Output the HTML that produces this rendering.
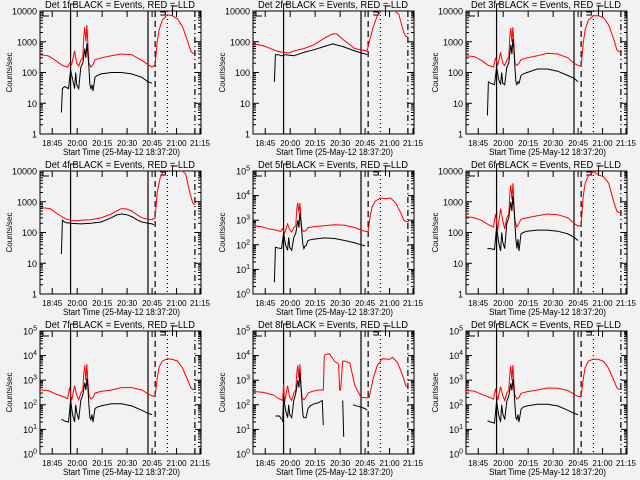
<!DOCTYPE html>
<html><head><meta charset="utf-8"><style>
body{margin:0;background:#f2f2f2}
svg{display:block}
text{font-family:"Liberation Sans",sans-serif;fill:#000}
</style></head><body>
<svg id="c" width="640" height="480" viewBox="0 0 640 480">
<rect width="640" height="480" fill="#f2f2f2"/>
</svg>
<script>
const tickMinutes=[12,36.5,61,85.5,110,134,157];
const tickLabels=["18:45","20:00","20:15","20:30","20:45","21:00","21:15"];
const markerTimes=[30,106,113,125,152];
const tR=[0,8,15,22,27,29,31,34,36,38,40,42,43,44,45,46,47,48,50,52,54,60,70,80,90,100,106,110,113,115,117,120,125,130,135,140,145,148,150,153];
const tB=[21,22,24,28,30,32,34,35,36,38,40,42,44,45,46,47,48,49,50,51,52,54,56,60,70,80,90,100,106,110];
const p1Red=[380,350,250,170,150,200,180,500,200,160,250,300,1500,3000,1000,3500,800,200,150,180,260,300,350,400,380,250,180,150,180,1000,2500,5000,7500,7000,5500,3000,1000,500,420,400];
const p1Black=[5,30,35,30,120,60,30,100,40,30,150,200,600,300,900,400,150,40,30,40,25,70,80,90,100,100,90,70,50,45];
const p3Red=[350,330,250,170,150,300,170,450,200,170,250,300,1500,2800,1000,3000,800,200,170,200,260,300,350,420,400,300,200,170,160,900,2500,5000,7000,7000,6000,3500,1200,550,480,450];
const p3Black=[4,50,45,40,150,60,40,100,45,40,150,200,800,400,1200,600,150,50,40,50,45,80,90,100,130,130,110,80,65,50];
const p5Red=[600,550,450,400,350,450,300,700,400,330,500,600,3000,5000,2000,5000,1200,400,350,380,500,550,600,650,620,500,400,350,350,1500,3500,6000,8000,7500,8000,5000,2000,1000,900,850];
const p5Black=[3,80,75,70,300,100,60,200,80,60,200,300,1000,500,2000,900,300,100,70,90,90,150,160,170,190,180,150,120,100,90];
const p6Red=[330,300,250,180,150,400,120,600,250,130,300,400,1800,3500,1200,4000,900,250,150,200,270,300,350,400,380,300,200,160,170,1500,4000,7000,9500,7500,6500,4000,1000,500,450,450];
const p6Black=[30,30,30,28,150,50,25,100,50,30,200,300,1000,500,1500,700,200,60,30,60,25,90,100,110,120,120,110,90,70,55];
const p7Red=[400,380,280,220,180,500,150,600,250,160,300,400,2000,4000,1000,4500,800,250,170,200,300,350,400,500,500,400,280,230,220,1200,3500,6000,7500,7000,6000,3000,1000,500,420,420];
const p7Black=[25,25,22,20,150,40,20,100,50,25,150,250,800,400,1200,500,100,30,25,40,20,70,80,90,110,110,90,60,45,40];
const p9Red=[380,360,270,210,170,450,150,550,240,150,300,400,1800,3800,1000,4200,800,240,170,200,290,340,400,480,470,380,270,220,210,1100,3300,6000,7200,7000,5800,3000,1000,500,430,420];
const p9Black=[22,22,20,18,140,40,20,100,45,25,140,230,750,380,1100,480,100,30,25,40,20,65,80,90,105,105,90,60,45,40];
const p2RedT=[0,10,20,25,30,35,40,45,50,60,70,78,82,88,95,100,106,112,114,118,122,127,137,143,148,150,152];
const p2Red=[850,750,550,480,450,430,500,550,600,800,1300,1800,1800,1200,800,600,550,500,1000,3000,7000,11000,11000,8000,2000,1500,1400];
const p2BlackT=[21,22,25,28,32,40,50,60,70,78,88,100,110,112];
const p2Black=[50,380,380,350,380,350,450,550,700,850,700,500,400,380];
const p4RedT=[0,10,15,20,25,30,35,40,50,60,70,75,80,85,90,95,100,106,110,113,115,118,122,127,137,143,147,150,152];
const p4Red=[650,600,450,350,280,250,240,250,260,300,400,500,600,580,500,380,300,270,260,300,2000,6000,11000,12000,12000,8000,2000,900,800];
const p4BlackT=[21,22,25,30,40,50,60,70,75,80,85,90,95,100,106,110,112];
const p4Black=[20,250,210,200,190,200,220,300,370,400,380,330,260,220,200,190,180];
const p8RedT=[0,10,20,25,29,30,31,34,36,38,40,42,43,44,45,46,47,48,50,52,54,58,64,69,70,71,75,80,84,85,86,88,90,95,100,106,112,114,118,122,127,134,137,142,147,150,152];
const p8Red=[350,320,250,180,150,700,130,600,200,150,300,400,2000,4000,1200,4500,800,200,160,200,300,350,400,400,10000,11000,12000,6000,4500,400,400,6000,6000,5000,600,200,190,200,1200,4000,7500,7000,8500,5000,1500,600,500];
const p8BlackT=[22,26,28,null,29,30,32,34,35,36,38,40,42,44,45,46,47,48,49,50,52,54,56,60,64,68,69,null,88,89,null,98,106,110,112];
const p8Black=[35,35,25,null,20,200,60,30,100,40,30,150,300,1000,500,2000,600,150,40,30,30,70,90,110,120,150,15,null,150,5,null,100,80,70,60];

const panels=[
 {n:"1f",dec:4,rt:tR,rv:p1Red,bt:tB,bv:p1Black},
 {n:"2f",dec:4,rt:p2RedT,rv:p2Red,bt:p2BlackT,bv:p2Black},
 {n:"3f",dec:4,rt:tR,rv:p3Red,bt:tB,bv:p3Black},
 {n:"4f",dec:4,rt:p4RedT,rv:p4Red,bt:p4BlackT,bv:p4Black},
 {n:"5f",dec:5,rt:tR,rv:p5Red,bt:tB,bv:p5Black},
 {n:"6f",dec:4,rt:tR,rv:p6Red,bt:tB,bv:p6Black},
 {n:"7f",dec:5,rt:tR,rv:p7Red,bt:tB,bv:p7Black},
 {n:"8f",dec:5,rt:p8RedT,rv:p8Red,bt:p8BlackT,bv:p8Black},
 {n:"9f",dec:5,rt:tR,rv:p9Red,bt:tB,bv:p9Black}
];
const NS="http://www.w3.org/2000/svg";
const svg=document.getElementById('c');
function mk(tag,attrs,parent){const e=document.createElementNS(NS,tag);for(const k in attrs)e.setAttribute(k,attrs[k]);(parent||svg).appendChild(e);return e;}
const L=40,R=201,T=11,B=134,TMAX=158;
panels.forEach((p,i)=>{
 const ox=(i%3)*213, oy=Math.floor(i/3)*160;
 const g=mk('g',{transform:`translate(${ox},${oy})`});
 
 
 const xs=t=>L+(t/TMAX)*(R-L);
 const ys=v=>B-(Math.log10(v)/p.dec)*(B-T);
 const cid='clip'+i;
 const cp=mk('clipPath',{id:cid},g);mk('rect',{x:L,y:T,width:R-L,height:B-T},cp);
 const box=mk('rect',{x:L,y:T,width:R-L,height:B-T,fill:'none',stroke:'#000','stroke-width':1},g);
 
 
 for(let d=0;d<=p.dec;d++){
  const y=ys(Math.pow(10,d));
  mk('line',{x1:L,x2:L+6,y1:y,y2:y,stroke:'#000'},g);
  mk('line',{x1:R,x2:R-6,y1:y,y2:y,stroke:'#000'},g);
  const tx=mk('text',{x:L-3,y:y+3.5,'text-anchor':'end','font-size':9},g);
  
  
  if(p.dec===4){tx.textContent=String(Math.pow(10,d));}
  else{tx.textContent='10';const s=mk('tspan',{dy:-4,'font-size':7},tx);s.textContent=String(d);}
  if(d<p.dec)for(let m=2;m<10;m++){const ym=ys(m*Math.pow(10,d));
   mk('line',{x1:L,x2:L+3,y1:ym,y2:ym,stroke:'#000'},g);
   mk('line',{x1:R,x2:R-3,y1:ym,y2:ym,stroke:'#000'},g);}
 }
 tickMinutes.forEach((t,k)=>{
  const x=xs(t);
  mk('line',{x1:x,x2:x,y1:B,y2:B-6,stroke:'#000'},g);
  mk('line',{x1:x,x2:x,y1:T,y2:T+6,stroke:'#000'},g);
  const tx=mk('text',{x:x-10,y:B+12,'font-size':8,textLength:20,lengthAdjust:'spacingAndGlyphs'},g);
  
  
  tx.textContent=tickLabels[k];
 });
 const tt=mk('text',{x:45,y:8,'font-size':10,textLength:150,lengthAdjust:'spacingAndGlyphs'},g);
 
 
 tt.textContent='Det '+p.n+' BLACK = Events, RED = LLD';
 const xt=mk('text',{x:63,y:B+21,'font-size':9,textLength:117,lengthAdjust:'spacingAndGlyphs'},g);
 
 
 xt.textContent='Start Time (25-May-12 18:37:20)';
 const yt=mk('text',{x:0,y:0,'text-anchor':'middle','font-size':8,transform:`translate(12,${(T+B)/2}) rotate(-90)`},g);
 
 
 yt.textContent='Counts/sec';
 const styles=['none','none','6,4','1,3','6,3,1,3'];
 markerTimes.forEach((t,k)=>{
  const x=xs(t);
  const ln=mk('line',{x1:x,x2:x,y1:T,y2:B,stroke:'#000','stroke-width':1.2,'stroke-dasharray':styles[k]},g);
  
  
 });
 mk('path',{d:`M${L+3},${T} V${T+5} H${L+9}`,fill:'none',stroke:'#000'},g);
 mk('path',{d:`M${xs(30)},${T} V${T-7} H${xs(30)+6}`,fill:'none',stroke:'#000'},g);
 mk('path',{d:`M${xs(118)},${T+1} H${xs(123)} V${T+4} H${xs(118)}`,fill:'none',stroke:'#000'},g);
 mk('path',{d:`M${xs(130)},${T+5} V${T-5} H${xs(135)}`,fill:'none',stroke:'#000'},g);
 function series(ts,vs,color,name){
  let d='',pen=false;
  for(let j=0;j<ts.length;j++){
   if(ts[j]===null||vs[j]===null){pen=false;continue;}
   d+=(pen?'L':'M')+xs(ts[j]).toFixed(1)+','+ys(vs[j]).toFixed(1);pen=true;
  }
  const pa=mk('path',{d:d,fill:'none',stroke:color,'stroke-width':1,'clip-path':`url(#${cid})`},g);
  
  
 }
 series(p.rt,p.rv,'#ff0000','lld-series');
 series(p.bt,p.bv,'#000000','events-series');
});
</script>
</body></html>
